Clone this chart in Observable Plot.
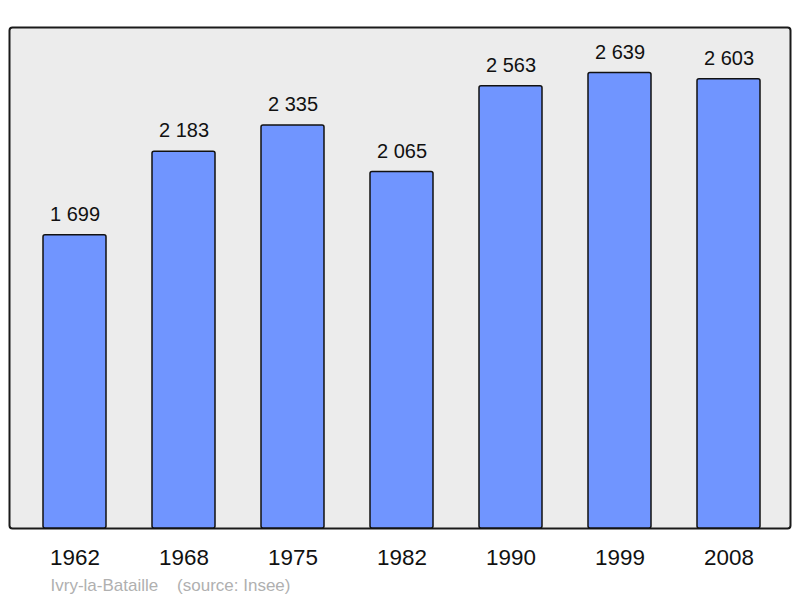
<!DOCTYPE html>
<html>
<head>
<meta charset="utf-8">
<script src="https://cdn.jsdelivr.net/npm/d3@7"></script>
<script src="https://cdn.jsdelivr.net/npm/@observablehq/plot@0.6"></script>
<style>
  html, body { margin: 0; padding: 0; background: #fff; }
</style>
</head>
<body>
<div id="chart"></div>
<script>
const years = ["1962", "1968", "1975", "1982", "1990", "1999", "2008"];
const population = [1699, 2183, 2335, 2065, 2563, 2639, 2603];
const caption = "Ivry-la-Bataille\u00a0\u00a0\u00a0 (source: Insee)";

const fmt = n => String(n).replace(/\B(?=(\d{3})+(?!\d))/g, " ");
const data = years.map((y, i) => ({year: y, pop: population[i], label: fmt(population[i])}));

const chart = Plot.plot({
  width: 800,
  height: 598,
  marginTop: 27,
  marginBottom: 70,
  marginLeft: 9,
  marginRight: 10,
  style: {fontFamily: "'Liberation Sans', Arial, sans-serif", background: "#fff"},
  x: {domain: years, range: [8.6, 793.9], paddingInner: 0.4244, paddingOuter: 0.3, axis: null},
  y: {domain: [0, d3.max(population) * 1.1], axis: null},
  marks: [
    Plot.frame({fill: "#ececec", stroke: "#1a1a1a", strokeWidth: 2, rx: 3}),
    Plot.barY(data, {x: "year", y: "pop", fill: "#7095ff", stroke: "#111", strokeWidth: 1.5, rx: 2}),
    Plot.text(data, {x: "year", y: "pop", text: "label", lineAnchor: "bottom", dy: -14.4, fontSize: 20, fill: "#111"}),
    Plot.text(data, {x: "year", y: () => 0, text: "year", lineAnchor: "bottom", dy: 36, fontSize: 22.4, fill: "#111"}),
    Plot.text([caption], {frameAnchor: "bottom-left", text: d => d, textAnchor: "start", lineAnchor: "bottom", dx: 41, dy: 62, fontSize: 17, fill: "#b0b0b0"})
  ]
});
document.getElementById("chart").append(chart);
</script>
</body>
</html>
